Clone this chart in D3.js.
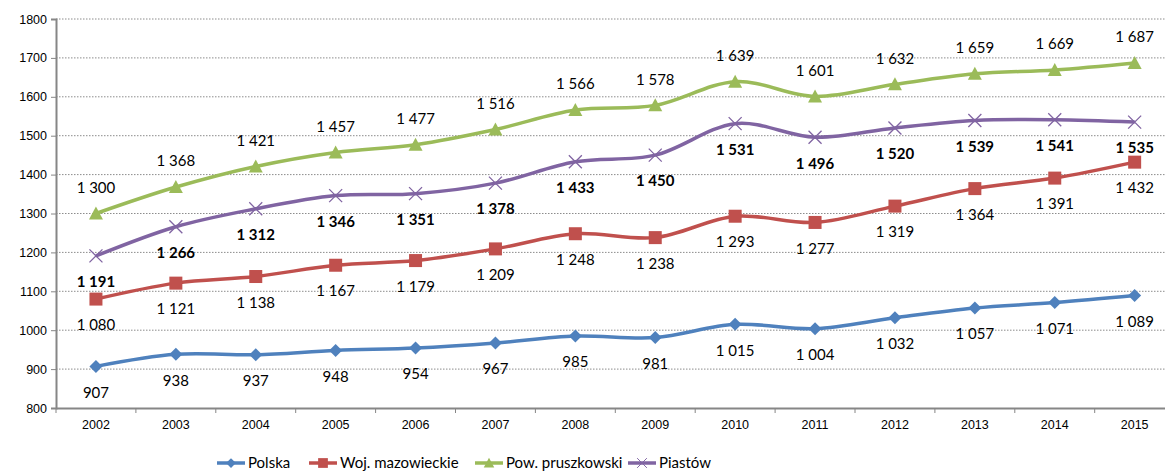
<!DOCTYPE html>
<html>
<head>
<meta charset="utf-8">
<script src="https://cdn.jsdelivr.net/npm/d3@7"></script>
<style>
  body { margin: 0; background: #fff; }
  svg { font-family: Lato, "Open Sans", sans-serif; }
  .grid line { stroke: #8c8c8c; stroke-dasharray: 1.5 1.5; stroke-width: 1; }
  .axis path, .axis line { stroke: #868686; }
</style>
</head>
<body>
<svg width="1165" height="472"></svg>
<script>
var years = ["2002", "2003", "2004", "2005", "2006", "2007", "2008", "2009", "2010", "2011", "2012", "2013", "2014", "2015"];
var polska = [907, 938, 937, 948, 954, 967, 985, 981, 1015, 1004, 1032, 1057, 1071, 1089];
var mazowieckie = [1080, 1121, 1138, 1167, 1179, 1209, 1248, 1238, 1293, 1277, 1319, 1364, 1391, 1432];
var pruszkowski = [1300, 1368, 1421, 1457, 1477, 1516, 1566, 1578, 1639, 1601, 1632, 1659, 1669, 1687];
var piastow = [1191, 1266, 1312, 1346, 1351, 1378, 1433, 1450, 1531, 1496, 1520, 1539, 1541, 1535];
var yTicks = [800, 900, 1000, 1100, 1200, 1300, 1400, 1500, 1600, 1700, 1800];

var series = [
    {name: "Polska", values: polska, color: "#4F81BD", marker: "diamond", labelPos: "below", bold: false},
    {name: "Woj. mazowieckie", values: mazowieckie, color: "#C0504D", marker: "square", labelPos: "below", bold: false},
    {name: "Pow. pruszkowski", values: pruszkowski, color: "#9BBB59", marker: "triangle", labelPos: "above", bold: false},
    {name: "Piastów", values: piastow, color: "#8064A2", marker: "x", labelPos: "below", bold: true}
];

var svg = d3.select("svg"),
    margin = {left: 56, top: 19},
    plotW = 14 * 79.9,
    plotH = 389;

var x = d3.scaleBand().domain(years).range([0, plotW]),
    y = d3.scaleLinear().domain([800, 1800]).range([plotH, 0]);

var g = svg.append("g")
    .attr("transform", "translate(" + margin.left + "," + margin.top + ")");

// gridlines
g.append("g")
    .attr("class", "grid")
    .selectAll("line")
    .data(yTicks.slice(1))
    .enter().append("line")
    .attr("x1", 0)
    .attr("x2", plotW)
    .attr("y1", function (d) { return y(d); })
    .attr("y2", function (d) { return y(d); });

// y axis
var yAxis = g.append("g")
    .attr("class", "axis")
    .call(d3.axisLeft(y).tickValues(yTicks).tickSize(5).tickFormat(d3.format("d")));
yAxis.select(".domain").attr("stroke-width", 2);
yAxis.selectAll("text").attr("font-size", 12.5).attr("fill", "#000").attr("x", -9);

// x axis, ticks between categories
var xAxis = g.append("g")
    .attr("class", "axis")
    .attr("transform", "translate(0," + plotH + ")")
    .call(d3.axisBottom(x).tickSize(0).tickSizeOuter(0));
xAxis.select(".domain").attr("stroke-width", 2);
xAxis.selectAll("text").attr("font-size", 12.5).attr("fill", "#000").attr("dy", "1.4em");
xAxis.selectAll(".sep")
    .data(d3.range(years.length + 1))
    .enter().append("line")
    .attr("class", "sep")
    .attr("x1", function (i) { return i * x.step(); })
    .attr("x2", function (i) { return i * x.step(); })
    .attr("y1", 0)
    .attr("y2", 5);

var line = d3.line()
    .x(function (d, i) { return x(years[i]) + x.bandwidth() / 2; })
    .y(function (d) { return y(d); })
    .curve(d3.curveCatmullRom.alpha(0));

function drawMarker(sel, type, color) {
    if (type === "diamond") {
        sel.append("path").attr("d", "M0,-6.5L6.5,0L0,6.5L-6.5,0Z").attr("fill", color);
    } else if (type === "square") {
        sel.append("rect").attr("x", -6.5).attr("y", -6.5).attr("width", 13).attr("height", 13).attr("fill", color);
    } else if (type === "triangle") {
        sel.append("path").attr("d", "M0,-7L7,6L-7,6Z").attr("fill", color);
    } else {
        sel.append("path").attr("d", "M-6.5,-6.5L6.5,6.5M-6.5,6.5L6.5,-6.5")
            .attr("stroke", color).attr("stroke-width", 1.3).attr("fill", "none");
    }
}

var fmt = function (v) { return d3.format(",")(v).replace(",", " "); };

series.forEach(function (s) {
    var sg = g.append("g");
    sg.append("path")
        .datum(s.values)
        .attr("fill", "none")
        .attr("stroke", s.color)
        .attr("stroke-width", 3.5)
        .attr("d", line);

    sg.selectAll(".m")
        .data(s.values)
        .enter().append("g")
        .attr("transform", function (d, i) {
            return "translate(" + (x(years[i]) + x.bandwidth() / 2) + "," + y(d) + ")";
        })
        .each(function () { drawMarker(d3.select(this), s.marker, s.color); });

    sg.selectAll(".lbl")
        .data(s.values)
        .enter().append("text")
        .attr("x", function (d, i) { return x(years[i]) + x.bandwidth() / 2; })
        .attr("y", function (d) { return y(d) + (s.labelPos === "above" ? -26 : 26); })
        .attr("dy", "0.35em")
        .attr("text-anchor", "middle")
        .attr("font-size", 15)
        .attr("font-weight", s.bold ? "bold" : "normal")
        .attr("fill", "#000")
        .text(function (d) { return fmt(d); });
});

// legend
var legendX = [217, 309, 475, 628];
var lg = svg.append("g").attr("transform", "translate(0,463)");
series.forEach(function (s, i) {
    var item = lg.append("g").attr("transform", "translate(" + legendX[i] + ",0)");
    item.append("line").attr("x1", 0).attr("x2", 28).attr("y1", 0).attr("y2", 0)
        .attr("stroke", s.color).attr("stroke-width", 3.5);
    var mk = item.append("g").attr("transform", "translate(14,0) scale(0.75)");
    drawMarker(mk, s.marker, s.color);
    item.append("text").attr("x", 31).attr("dy", "0.35em")
        .attr("font-size", 15).attr("fill", "#000").text(s.name);
});
</script>
</body>
</html>
